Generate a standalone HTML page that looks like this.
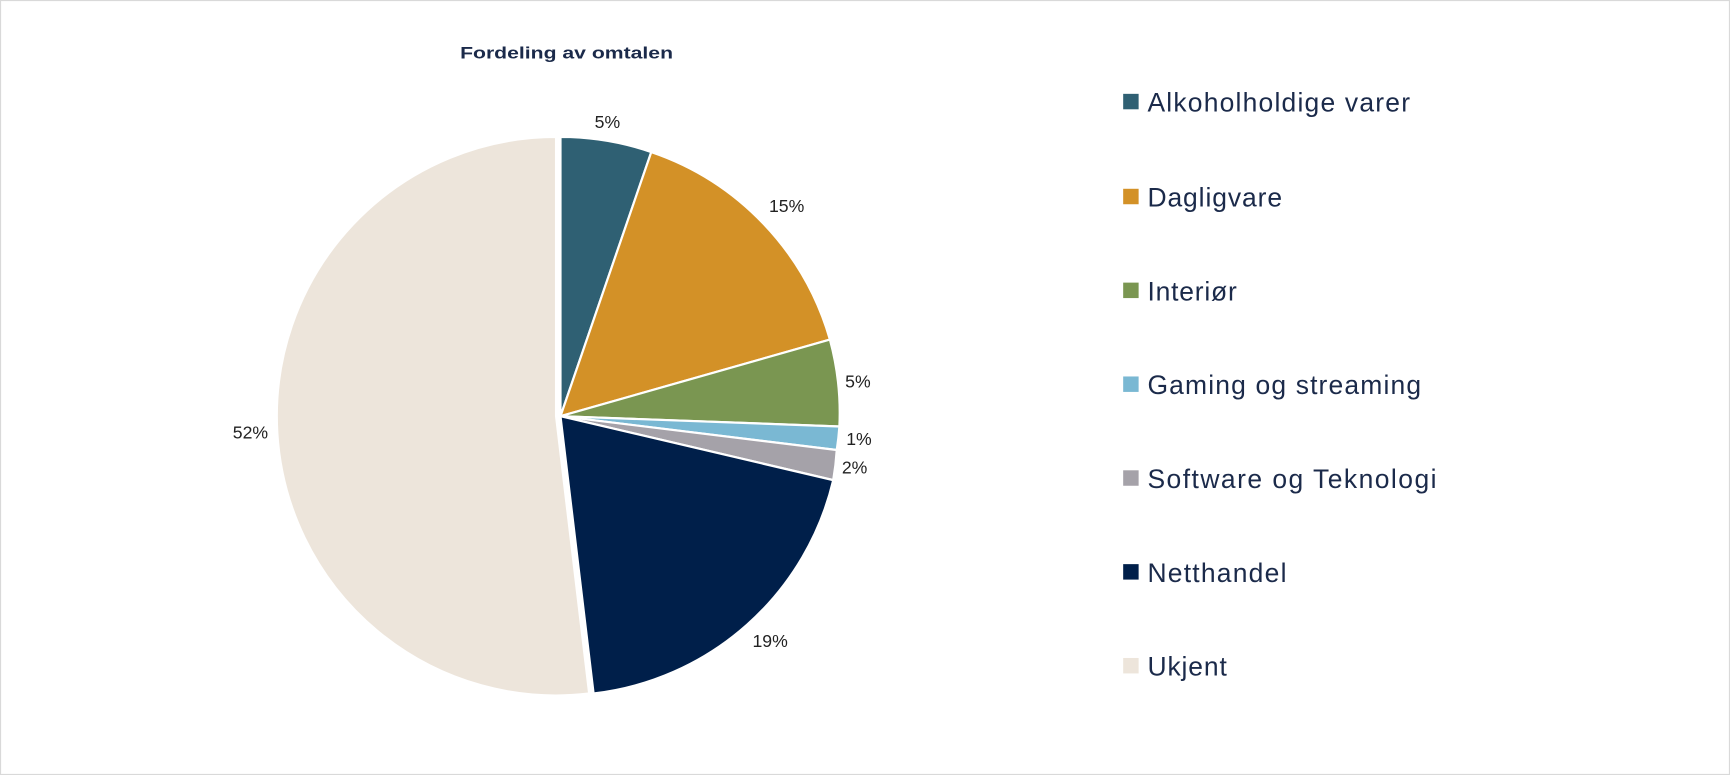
<!DOCTYPE html>
<html><head><meta charset="utf-8"><style>
html,body{margin:0;padding:0;background:#fff;}
svg{display:block;}
</style></head><body>
<svg width="1730" height="775" viewBox="0 0 1568 702" preserveAspectRatio="none" xmlns="http://www.w3.org/2000/svg" font-family="'Liberation Sans', sans-serif">
<rect x="0.5" y="0.5" width="1567" height="701" fill="#fff" stroke="#d9d9d9"/>
<text x="417" y="53" font-size="15" font-weight="bold" fill="#1b2a4a" textLength="193" lengthAdjust="spacingAndGlyphs">Fordeling av omtalen</text>
<g stroke="#fff" stroke-width="2" stroke-linejoin="round">
<path d="M508,377 L508,124 A253,253 0 0 1 590.3,137.7 Z" fill="#2f6073"/>
<path d="M508,377 L590.3,137.7 A253,253 0 0 1 752.2,307.6 Z" fill="#d39127"/>
<path d="M508,377 L752.2,307.6 A253,253 0 0 1 760.8,386.3 Z" fill="#7a9651"/>
<path d="M508,377 L760.8,386.3 A253,253 0 0 1 758.4,407.6 Z" fill="#7ab8d3"/>
<path d="M508,377 L758.4,407.6 A253,253 0 0 1 755.2,434.9 Z" fill="#a5a2a9"/>
<path d="M508,377 L755.2,434.9 A253,253 0 0 1 538.0,628.2 Z" fill="#001f4a"/>
<path d="M504,377 L534.0,628.2 A253,253 0 1 1 504,124 Z" fill="#ede5db"/>
</g>
<g font-size="16" fill="#222">
<text x="539" y="116">5%</text>
<text x="697" y="192">15%</text>
<text x="766" y="351">5%</text>
<text x="767" y="403">1%</text>
<text x="763" y="429">2%</text>
<text x="682" y="586">19%</text>
<text x="211" y="397">52%</text>
</g>
<g font-size="24" fill="#1b2a4a" lengthAdjust="spacingAndGlyphs">
<rect x="1018" y="85" width="14" height="14" fill="#2f6073"/><text x="1040" y="101" textLength="238">Alkoholholdige varer</text>
<rect x="1018" y="171" width="14" height="14" fill="#d39127"/><text x="1040" y="187" textLength="122">Dagligvare</text>
<rect x="1018" y="256" width="14" height="14" fill="#7a9651"/><text x="1040" y="272" textLength="81">Interiør</text>
<rect x="1018" y="341" width="14" height="14" fill="#7ab8d3"/><text x="1040" y="357" textLength="248">Gaming og streaming</text>
<rect x="1018" y="426" width="14" height="14" fill="#a5a2a9"/><text x="1040" y="442" textLength="262">Software og Teknologi</text>
<rect x="1018" y="511" width="14" height="14" fill="#001f4a"/><text x="1040" y="527" textLength="126">Netthandel</text>
<rect x="1018" y="596" width="14" height="14" fill="#ede5db"/><text x="1040" y="612" textLength="72">Ukjent</text>
</g>
</svg>
</body></html>
